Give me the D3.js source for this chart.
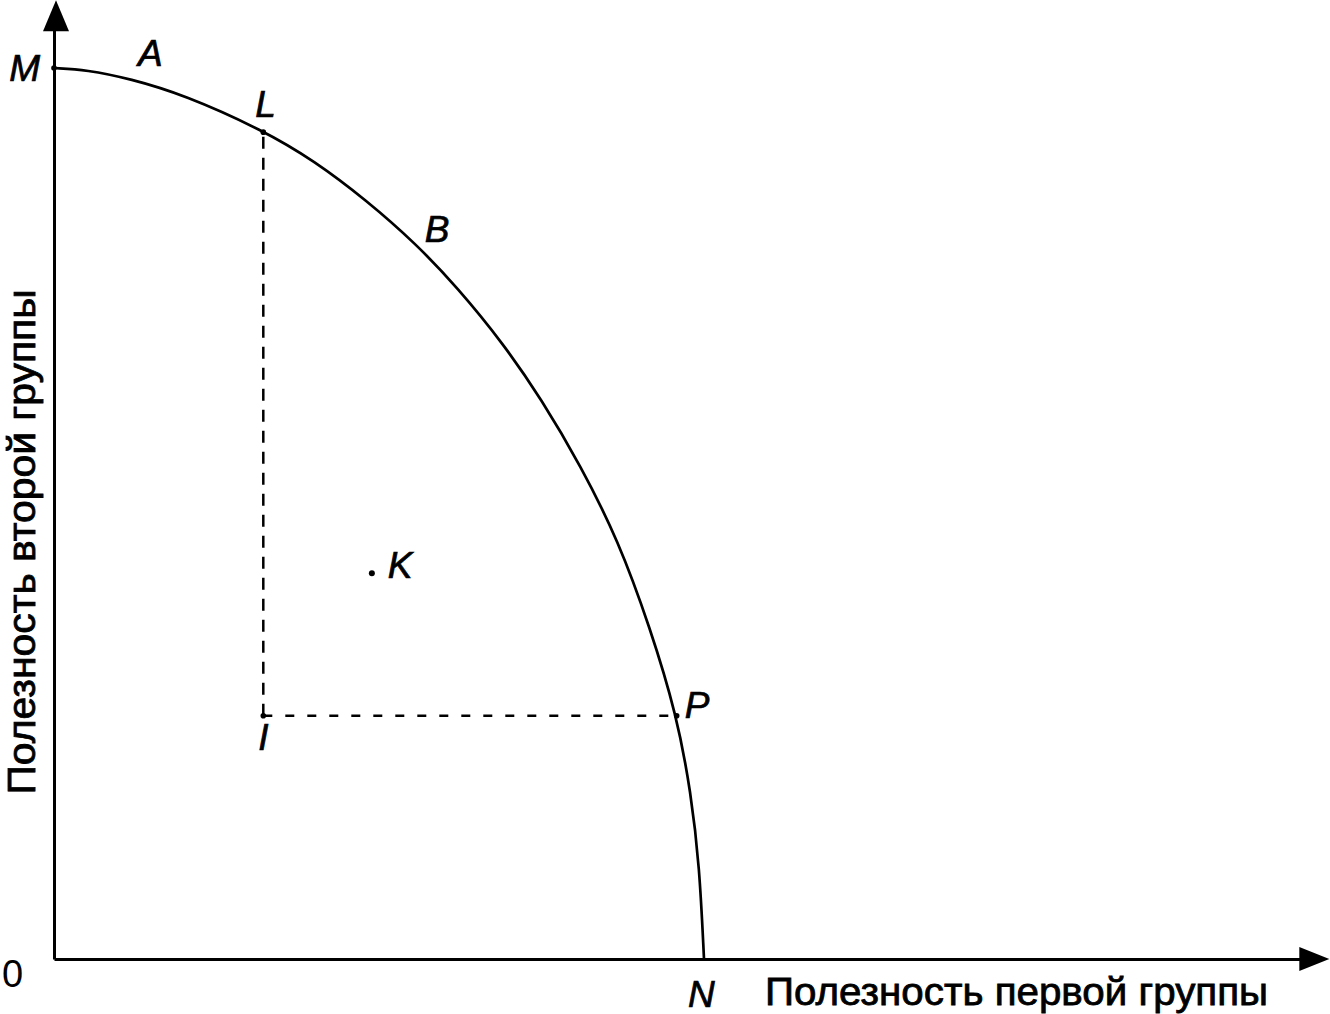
<!DOCTYPE html>
<html>
<head>
<meta charset="utf-8">
<script src="https://cdn.jsdelivr.net/npm/d3@7"></script>
<style>
  html, body { margin: 0; padding: 0; background: #fff; }
  svg { display: block; }
  text { font-family: "Liberation Sans", Arial, sans-serif; fill: #000; }
</style>
</head>
<body>
<svg id="chart" width="1330" height="1014"></svg>
<script>
// ---------- data (utility units: N = 100 on x, M = 100 on y) ----------
const frontierX = [0, 5, 11.7, 20, 32.2, 40, 48, 55.8, 62, 69.1, 75, 81, 86.8, 91.7, 95.8, 98, 99.3, 100];
const frontierY = [100, 99.8, 98.8, 97.0, 93.0, 89.6, 85.2, 80.2, 75.4, 69.1, 62.8, 55.4, 47.0, 37.2, 27.4, 18.6, 10.5, 0];

const pointNames = ["M", "A", "L", "B", "K", "P", "I", "N"];
const pointX     = [0, 11.7, 32.2, 55.8, 48.9, 95.8, 32.2, 100];
const pointY     = [100, 98.6, 92.8, 80.0, 43.3, 27.3, 27.3, 0];

const originLabel = "0";
const xAxisTitle = "Полезность первой группы";
const yAxisTitle = "Полезность второй группы";
const xAxisMax = 196.2;
const yAxisMax = 107.6;

// ---------- layout ----------
const svg = d3.select("#chart");
const x = d3.scaleLinear().domain([0, 100]).range([54, 704]);
const y = d3.scaleLinear().domain([0, 100]).range([959, 68]);

const pts = pointNames.map((n, i) => ({ name: n, x: pointX[i], y: pointY[i] }));
const P = Object.fromEntries(pts.map(p => [p.name, p]));

// axes (no ticks) drawn with d3.axis
const xAxisScale = x.copy().domain([0, xAxisMax]).range([x(0), x(xAxisMax) - 26]);
const yAxisScale = y.copy().domain([0, yAxisMax]).range([y(0), y(yAxisMax) + 28]);

const gx = svg.append("g").attr("transform", `translate(0,${y(0)})`)
  .call(d3.axisBottom(xAxisScale).tickValues([]).tickSizeOuter(0));
const gy = svg.append("g").attr("transform", `translate(${x(0)},0)`)
  .call(d3.axisLeft(yAxisScale).tickValues([]).tickSizeOuter(0));
[gx, gy].forEach(g => g.select(".domain").attr("stroke", "#000").attr("stroke-width", 3));

// arrowheads
const xe = x(xAxisMax), ye = y(yAxisMax);
svg.append("path")
  .attr("d", `M${xe},${y(0)} L${xe - 30},${y(0) - 12} L${xe - 30},${y(0) + 12} Z`)
  .attr("fill", "#000");
svg.append("path")
  .attr("d", `M${x(0) + 2},${ye} L${x(0) - 11},${ye + 31} L${x(0) + 15},${ye + 31} Z`)
  .attr("fill", "#000");

// frontier curve
const frontier = frontierX.map((v, i) => [v, frontierY[i]]);
svg.append("path")
  .datum(frontier)
  .attr("fill", "none")
  .attr("stroke", "#000")
  .attr("stroke-width", 2.7)
  .attr("d", d3.line().x(d => x(d[0])).y(d => y(d[1])).curve(d3.curveBasis));

// dashed lines L-I and I-P
svg.append("line")
  .attr("x1", x(P.I.x)).attr("y1", y(P.I.y))
  .attr("x2", x(P.L.x)).attr("y2", y(P.L.y))
  .attr("stroke", "#000").attr("stroke-width", 2.5).attr("stroke-dasharray", "12 9");
svg.append("line")
  .attr("x1", x(P.I.x)).attr("y1", y(P.I.y))
  .attr("x2", x(P.P.x)).attr("y2", y(P.P.y))
  .attr("stroke", "#000").attr("stroke-width", 2.5).attr("stroke-dasharray", "9 13");

// small dots
["M", "L", "I", "P", "K"].forEach(n => {
  svg.append("circle").attr("cx", x(P[n].x)).attr("cy", y(P[n].y))
    .attr("r", n === "K" ? 3 : 2.8).attr("fill", "#000");
});

// point labels
const labelOffset = {
  M: [-14, 13, "end"], A: [8, -14, "start"], L: [-8, -15, "start"], B: [8, -4, "start"],
  K: [16, 5, "start"], P: [8, 2, "start"], I: [-5, 34, "start"], N: [-16, 48, "start"]
};
svg.selectAll("text.pt").data(pts).join("text")
  .attr("class", "pt")
  .attr("x", d => x(d.x) + labelOffset[d.name][0])
  .attr("y", d => y(d.y) + labelOffset[d.name][1])
  .attr("text-anchor", d => labelOffset[d.name][2])
  .attr("font-size", 37)
  .attr("font-style", "italic")
  .attr("stroke", "#000").attr("stroke-width", 0.7)
  .text(d => d.name);

// origin
svg.append("text").attr("x", x(0) - 52).attr("y", y(0) + 28)
  .attr("font-size", 38).text(originLabel);

// axis titles
svg.append("text")
  .attr("x", 765).attr("y", y(0) + 46)
  .attr("font-size", 39)
  .attr("stroke", "#000").attr("stroke-width", 0.8)
  .attr("textLength", 503).attr("lengthAdjust", "spacingAndGlyphs")
  .text(xAxisTitle);
svg.append("text")
  .attr("transform", "translate(35,542) rotate(-90)")
  .attr("text-anchor", "middle")
  .attr("font-size", 38)
  .attr("stroke", "#000").attr("stroke-width", 0.8)
  .attr("textLength", 505).attr("lengthAdjust", "spacingAndGlyphs")
  .text(yAxisTitle);
</script>
</body>
</html>
